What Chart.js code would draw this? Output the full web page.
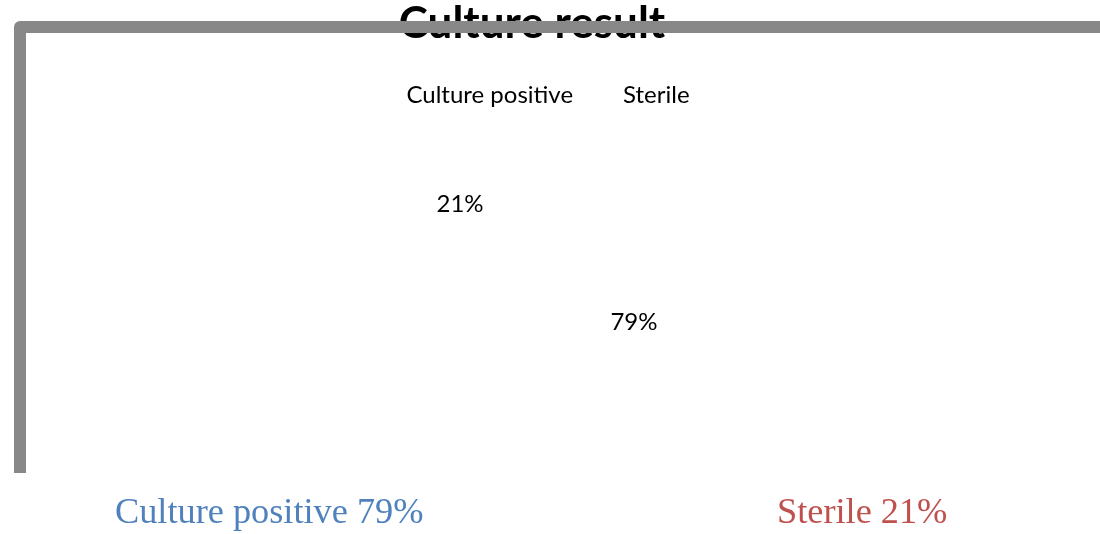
<!DOCTYPE html>
<html>
<head>
<meta charset="utf-8">
<script src="https://cdn.jsdelivr.net/npm/chart.js@4/dist/chart.umd.min.js"></script>
<style>
  html, body { margin: 0; padding: 0; background: #ffffff; }
  #wrap { width: 1100px; height: 534px; position: relative; }
</style>
</head>
<body>
<div id="wrap"><canvas id="c" width="1100" height="534"></canvas></div>
<script>
const chartTitle = 'Culture result';
const categories = ['Culture positive', 'Sterile'];
const values = [79, 21];
const footerColors = ['#4F81BD', '#C0504D'];

const decorPlugin = {
  id: 'decor',
  afterLayout(chart) {
    // nudge the legend row slightly left, as in the reference
    if (chart.legend) {
      chart.legend.left -= 5;
      chart.legend.right -= 5;
    }
  },
  afterDatasetsDraw(chart) {
    const ctx = chart.ctx;
    const meta = chart.getDatasetMeta(0);
    ctx.save();
    ctx.fillStyle = '#000000';
    ctx.font = '24px Lato, "Liberation Sans", sans-serif';
    ctx.textAlign = 'center';
    ctx.textBaseline = 'middle';
    meta.data.forEach((arc, i) => {
      const p = arc.getProps(['x', 'y', 'startAngle', 'endAngle', 'outerRadius'], true);
      const mid = (p.startAngle + p.endAngle) / 2;
      const r = p.outerRadius * 0.72;
      ctx.fillText(chart.data.datasets[0].data[i] + '%', p.x + Math.cos(mid) * r, p.y + Math.sin(mid) * r);
    });
    ctx.restore();
  },
  afterDraw(chart) {
    const ctx = chart.ctx;
    ctx.save();
    // title
    ctx.fillStyle = '#000000';
    ctx.font = 'bold 44px Lato, "Liberation Sans", sans-serif';
    ctx.textAlign = 'center';
    ctx.textBaseline = 'alphabetic';
    ctx.fillText(chartTitle, 532, 38);
    // frame
    ctx.strokeStyle = '#888888';
    ctx.lineWidth = 12;
    ctx.lineJoin = 'round';
    ctx.lineCap = 'butt';
    ctx.beginPath();
    ctx.moveTo(20, 473);
    ctx.lineTo(20, 27);
    ctx.lineTo(1120, 27);
    ctx.stroke();
    // footer labels
    ctx.font = '36.3px "Liberation Serif", "Times New Roman", serif';
    ctx.textAlign = 'left';
    const xs = [115, 777];
    categories.forEach((c, i) => {
      ctx.fillStyle = footerColors[i];
      ctx.fillText(c + ' ' + values[i] + '%', xs[i], 523);
    });
    ctx.restore();
  }
};

new Chart(document.getElementById('c'), {
  type: 'pie',
  data: {
    labels: categories,
    datasets: [{
      data: values,
      backgroundColor: ['#ffffff', '#ffffff'],
      borderColor: ['#ffffff', '#ffffff'],
      borderWidth: 0
    }]
  },
  options: {
    responsive: false,
    devicePixelRatio: 1,
    animation: false,
    rotation: -18,
    layout: { padding: { top: 45, left: 0, right: 6, bottom: 125 } },
    plugins: {
      title: { display: false },
      tooltip: { enabled: false },
      legend: {
        display: true,
        position: 'top',
        labels: {
          boxWidth: 0,
          boxHeight: 0,
          padding: 38,
          color: '#000000',
          font: { family: 'Lato, "Liberation Sans", sans-serif', size: 24 }
        }
      }
    }
  },
  plugins: [decorPlugin]
});
</script>
</body>
</html>
